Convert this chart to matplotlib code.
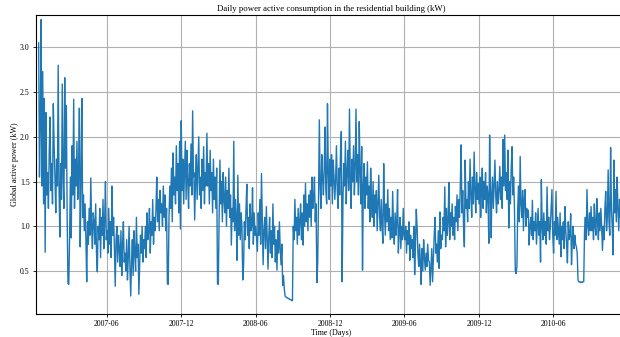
import matplotlib
matplotlib.use("Agg")
import matplotlib.pyplot as plt
import matplotlib.dates as mdates
import numpy as np
import pandas as pd

kw_2006 = [3.05, 1.55, 2.10, 3.31, 1.45, 2.73, 1.25, 2.43]  # from 2006-12-16

kw_2007 = (
    [0.71, 2.27, 1.35, 1.60, 1.20, 1.85, 2.22, 1.40, 1.70, 1.25, 2.37, 1.90, 1.55, 1.15, 1.75, 1.45]  # Jan
    + [2.80, 1.45, 0.88, 1.70, 1.30, 2.59, 1.55, 1.20, 2.66, 1.65, 2.35, 1.10, 0.36, 0.35]  # Feb
    + [0.90, 1.55, 0.87, 1.90, 1.35, 2.42, 1.20, 1.75, 1.45, 1.95, 1.30, 1.60, 2.32, 0.77, 1.50]  # Mar
    + [2.43, 1.10, 1.35, 0.95, 1.25, 0.85, 0.38, 1.05, 0.80, 1.20, 0.90, 1.54, 1.00, 0.75, 1.15]  # Apr
    + [1.05, 0.80, 1.25, 0.70, 0.49, 1.00, 0.85, 1.20, 0.65, 1.10, 0.90, 1.30, 0.75, 1.05, 1.50, 0.85]  # May
    + [0.95, 0.70, 1.20, 0.80, 1.05, 0.65, 1.45, 0.90, 1.10, 0.75, 0.33, 0.85, 1.00, 0.60, 0.90]  # Jun
    + [0.75, 0.55, 0.95, 0.45, 0.80, 1.05, 0.60, 0.70, 0.50, 0.85, 0.40, 0.65, 1.00, 0.55, 0.22]  # Jul
    + [0.60, 0.85, 0.45, 0.95, 0.70, 0.50, 1.10, 0.65, 0.80, 0.24, 0.55, 0.90, 0.70, 1.00, 0.60, 0.85]  # Aug
    + [0.75, 1.00, 0.65, 1.15, 0.85, 0.95, 1.20, 0.70, 1.05, 0.90, 1.30, 0.80, 1.10, 0.95, 1.20]  # Sep
    + [1.55, 1.05, 1.30, 0.95, 1.40, 1.15, 1.25, 1.00, 1.45, 1.10, 1.35, 0.95, 1.20, 0.36, 0.35]  # Oct
    + [1.10, 1.45, 1.20, 1.65, 1.05, 1.82, 1.35, 1.55, 1.25, 1.90, 1.40, 1.70, 1.15, 1.95, 0.97]  # Nov
    + [2.18, 1.40, 1.75, 1.25, 1.60, 1.95, 1.30, 1.85, 1.50, 1.20, 1.70, 1.45, 1.92, 1.35, 2.29, 1.55]  # Dec
)

kw_2008 = (
    [1.60, 1.07, 1.50, 1.80, 1.30, 1.65, 2.00, 1.35, 1.55, 1.20, 1.75, 1.40, 1.89, 1.25, 1.60, 1.45]  # Jan
    + [2.04, 1.45, 1.70, 1.25, 1.85, 1.40, 1.60, 1.15, 1.75, 1.30, 1.55, 1.20, 1.65, 0.36]  # Feb
    + [0.35, 1.10, 1.74, 1.25, 1.50, 1.05, 1.60, 1.30, 1.15, 1.55, 1.00, 1.40, 1.20, 1.65, 1.10, 1.35]  # Mar
    + [0.79, 1.20, 1.05, 1.95, 0.95, 1.30, 1.10, 0.62, 1.57, 0.90, 1.25, 0.85, 1.15, 1.00, 0.40]  # Apr
    + [0.55, 1.05, 0.85, 1.20, 1.47, 0.90, 1.10, 0.75, 1.25, 0.95, 1.00, 1.43, 0.80, 1.15, 0.90]  # May
    + [1.00, 0.85, 0.72, 1.15, 0.90, 1.30, 0.80, 1.59, 1.05, 0.57, 0.95, 1.10, 0.75, 1.22, 0.85]  # Jun
    + [0.52, 0.90, 1.10, 0.70, 0.95, 0.65, 1.25, 0.80, 1.00, 0.60, 0.85, 0.51, 0.95, 0.70, 1.05, 0.75]  # Jul
    + [0.57, 0.80, 0.34, 0.45, 0.30, 0.22, 0.21, 0.20, 0.20, 0.19, 0.19, 0.18, 0.18, 0.17, 0.17]  # Aug
    + [1.00, 0.85, 1.30, 0.95, 1.10, 0.80, 1.20, 0.90, 1.05, 1.25, 0.85, 1.15, 0.79, 1.35, 1.00]  # Sep
    + [1.48, 1.05, 1.25, 0.95, 1.35, 1.10, 1.40, 1.00, 1.55, 1.20, 1.30, 1.55, 1.05, 1.25, 0.37, 0.59]  # Oct
    + [1.30, 2.19, 1.45, 1.20, 1.80, 1.55, 1.35, 1.65, 2.11, 1.40, 1.25, 2.37, 1.60, 1.30, 1.75]  # Nov
    + [1.45, 1.80, 1.25, 1.74, 1.55, 1.30, 1.52, 1.90, 1.40, 1.20, 1.65, 1.35, 1.85, 2.06, 0.38]  # Dec
)

kw_2009 = (
    [1.30, 1.70, 1.45, 1.95, 1.25, 1.60, 1.85, 1.40, 2.31, 1.55, 1.20, 1.75, 1.50, 1.90, 1.35, 1.65]  # Jan
    + [2.31, 1.50, 1.80, 1.35, 2.17, 1.60, 1.25, 1.89, 0.51, 1.45, 1.70, 1.20, 1.55, 1.35]  # Feb
    + [1.72, 1.20, 1.45, 1.05, 1.65, 1.30, 1.10, 1.50, 1.00, 1.35, 1.15, 1.40, 0.95, 1.25, 1.57]  # Mar
    + [1.10, 0.95, 1.30, 1.00, 0.81, 1.70, 1.15, 0.90, 1.25, 1.05, 1.41, 0.95, 1.20, 0.85, 1.10]  # Apr
    + [0.87, 1.39, 1.00, 0.80, 1.15, 0.90, 1.05, 1.41, 0.70, 0.95, 1.10, 0.75, 1.00, 0.85, 1.20, 0.90]  # May
    + [0.85, 1.00, 0.70, 0.95, 0.80, 1.05, 0.62, 0.90, 0.75, 0.85, 0.65, 1.00, 0.46, 0.80, 1.19]  # Jun
    + [0.98, 0.70, 0.55, 0.80, 0.60, 0.35, 0.75, 0.50, 0.85, 0.65, 0.51, 0.70, 0.55, 0.80, 0.62]  # Jul
    + [0.60, 0.34, 0.55, 0.75, 0.38, 0.65, 0.90, 1.10, 0.70, 0.80, 0.60, 0.95, 0.53, 1.16, 0.75, 0.90]  # Aug
    + [0.85, 1.10, 0.95, 1.44, 0.77, 1.20, 0.90, 1.05, 1.49, 0.85, 1.15, 1.00, 1.25, 0.90, 1.10]  # Sep
    + [0.85, 1.22, 1.05, 1.35, 0.95, 1.30, 1.10, 1.45, 1.91, 1.15, 1.40, 1.00, 0.77, 1.74, 1.20]  # Oct
    + [1.30, 1.05, 1.50, 1.20, 1.75, 1.35, 1.10, 1.55, 1.25, 1.83, 1.40, 1.15, 1.60, 1.30, 1.48]  # Nov
    + [1.25, 1.55, 1.10, 1.40, 1.65, 1.20, 1.50, 1.30, 1.60, 1.15, 1.45, 1.35, 0.81, 2.02, 1.40, 0.87]  # Dec
)

kw_2010 = (
    [1.30, 1.55, 1.20, 1.45, 1.74, 1.35, 1.15, 1.50, 1.25, 1.40, 1.67, 1.30, 1.55, 1.20, 1.97, 1.45]  # Jan
    + [2.02, 1.40, 1.60, 1.30, 1.85, 0.98, 1.50, 1.25, 1.65, 1.89, 1.35, 1.55, 1.20, 0.51]  # Feb
    + [0.47, 0.55, 1.20, 1.45, 1.05, 1.78, 1.25, 1.10, 1.40, 0.95, 1.30, 1.41, 1.00, 1.20, 1.10]  # Mar
    + [1.18, 0.79, 1.00, 1.10, 0.90, 1.29, 0.85, 1.05, 0.95, 1.15, 0.80, 1.00, 1.20, 0.90, 1.05]  # Apr
    + [0.60, 1.52, 1.00, 0.85, 1.15, 0.90, 1.05, 0.80, 1.44, 0.95, 1.10, 0.85, 1.00, 1.20, 1.41, 0.90]  # May
    + [0.70, 1.05, 0.90, 1.39, 0.85, 1.10, 0.95, 0.80, 1.15, 0.66, 1.00, 0.85, 1.05, 0.75, 1.22]  # Jun
    + [0.95, 0.80, 0.59, 1.05, 0.85, 0.90, 1.14, 0.57, 0.85, 1.00, 0.75, 0.90, 0.80, 0.77, 0.70]  # Jul
    + [0.40, 0.38, 0.38, 0.37, 0.38, 0.37, 0.38, 0.38, 0.95, 1.10, 0.85, 1.41, 1.00, 0.90, 1.15, 0.95]  # Aug
    + [1.22, 0.95, 1.10, 0.85, 1.25, 1.00, 0.90, 1.31, 1.05, 0.85, 1.15, 0.95, 1.20, 1.00, 0.73]  # Sep
    + [1.00, 0.85, 1.20, 1.39, 0.95, 1.10, 1.63, 1.05, 0.90, 1.88, 1.20, 1.00, 0.68, 1.74, 1.15]  # Oct
    + [1.41, 1.05, 1.55, 1.20, 0.95, 1.30, 1.10, 1.40, 1.00, 1.25, 1.15, 0.95, 1.20]  # Nov
)

year_starts = ["2006-12-16", "2007-01-01", "2008-01-01", "2009-01-01", "2010-01-01"]
year_values = [kw_2006, kw_2007, kw_2008, kw_2009, kw_2010]

title = "Daily power active consumption in the residential building (kW)"
xlabel = "Time (Days)"
ylabel = "Global active power (kW)"

dates = []
values = []
for start, vals in zip(year_starts, year_values):
    dates.extend(pd.date_range(start=start, periods=len(vals), freq="2D"))
    values.extend(vals)
series = pd.Series(values, index=pd.DatetimeIndex(dates))

plt.rcParams["font.family"] = ["Liberation Serif", "DejaVu Serif"]

W, H = 620, 337
fig = plt.figure(figsize=(W / 100, H / 100), dpi=100)
left_px, right_px, top_px, bottom_px = 36, 626.5, 14.7, 314.3
ax = fig.add_axes([left_px / W, 1 - bottom_px / H, (right_px - left_px) / W, (bottom_px - top_px) / H])

ax.plot(series.index, series.values, color="#1f77b4", linewidth=1.0)

ax.set_xlim(pd.Timestamp("2006-12-09 12:00"), pd.Timestamp("2010-11-28"))
ax.set_ylim(0.016, 3.365)

ax.xaxis.set_major_locator(mdates.MonthLocator(bymonth=[6, 12]))
ax.xaxis.set_major_formatter(mdates.DateFormatter("%Y-%m"))
ax.set_yticks([0.5, 1.0, 1.5, 2.0, 2.5, 3.0])

ax.grid(True, color="#b0b0b0", linewidth=0.8)
ax.set_axisbelow(True)
for sp in ax.spines.values():
    sp.set_color("black")
    sp.set_linewidth(0.8)

ax.tick_params(axis="both", labelsize=5.6, length=2.5, width=0.6, pad=2)
ax.tick_params(axis="x", pad=1.5)
ax.set_title(title, fontsize=6.3, pad=2.5)
ax.set_xlabel(xlabel, fontsize=5.8, labelpad=0.5)
ax.set_ylabel(ylabel, fontsize=5.8, labelpad=0.8)

fig.savefig("out.png", dpi=100)
